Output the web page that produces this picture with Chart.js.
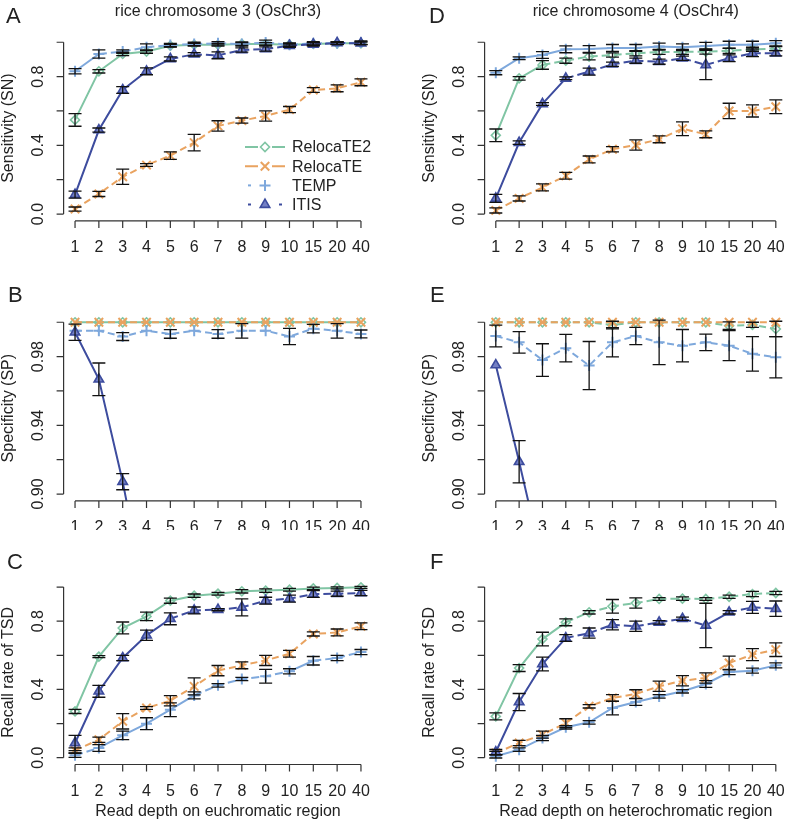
<!DOCTYPE html>
<html>
<head>
<meta charset="utf-8">
<script src="https://cdn.jsdelivr.net/npm/chart.js@4.4.1/dist/chart.umd.min.js"></script>
<style>
  html, body { margin: 0; padding: 0; background: #fff; overflow: hidden; width: 791px; height: 821px; }
  canvas { position: absolute; }
</style>
</head>
<body>
<canvas id="panelA" width="395" height="262" style="left:0px;top:0px"></canvas>
<canvas id="panelD" width="400" height="262" style="left:395px;top:0px"></canvas>
<canvas id="panelB" width="395" height="268" style="left:0px;top:262px"></canvas>
<canvas id="panelE" width="400" height="268" style="left:395px;top:262px"></canvas>
<canvas id="panelC" width="395" height="291" style="left:0px;top:530px"></canvas>
<canvas id="panelF" width="400" height="291" style="left:395px;top:530px"></canvas>
<script>
// read depths (x categories)
var depths = ['1', '2', '3', '4', '5', '6', '7', '8', '9', '10', '15', '20', '40'];
var seriesNames = ['RelocaTE2', 'RelocaTE', 'TEMP', 'ITIS'];

// A: sensitivity, OsChr3
var snChr3RelocaTE2 = [0.548, 0.831, 0.932, 0.946, 0.980, 0.986, 0.986, 0.990, 0.990, 0.986, 0.990, 0.994, 0.994];
var snChr3RelocaTE2Err = [0.037, 0.010, 0.010, 0.010, 0.008, 0.008, 0.008, 0.008, 0.008, 0.008, 0.008, 0.006, 0.008];
var snChr3RelocaTE = [0.029, 0.117, 0.217, 0.285, 0.340, 0.416, 0.513, 0.544, 0.571, 0.608, 0.722, 0.732, 0.767];
var snChr3RelocaTEErr = [0.012, 0.015, 0.044, 0.008, 0.022, 0.048, 0.030, 0.015, 0.030, 0.018, 0.014, 0.020, 0.020];
var snChr3TEMP = [0.831, 0.932, 0.946, 0.971, 0.984, 0.990, 0.994, 0.990, 0.998, 0.986, 0.994, 0.994, 0.998];
var snChr3TEMPErr = [0.015, 0.024, 0.010, 0.020, 0.010, 0.010, 0.010, 0.012, 0.015, 0.010, 0.010, 0.008, 0.010];
var snChr3ITIS = [0.113, 0.489, 0.722, 0.831, 0.903, 0.930, 0.924, 0.955, 0.961, 0.980, 0.988, 0.996, 0.994];
var snChr3ITISErr = [0.020, 0.012, 0.020, 0.020, 0.012, 0.010, 0.020, 0.012, 0.012, 0.010, 0.010, 0.008, 0.008];

// D: sensitivity, OsChr4
var snChr4RelocaTE2 = [0.458, 0.790, 0.868, 0.893, 0.917, 0.926, 0.936, 0.944, 0.944, 0.946, 0.950, 0.959, 0.963];
var snChr4RelocaTE2Err = [0.037, 0.010, 0.025, 0.015, 0.020, 0.012, 0.015, 0.015, 0.015, 0.015, 0.015, 0.012, 0.012];
var snChr4RelocaTE = [0.021, 0.091, 0.155, 0.223, 0.318, 0.377, 0.402, 0.435, 0.497, 0.464, 0.600, 0.600, 0.625];
var snChr4RelocaTEErr = [0.015, 0.015, 0.020, 0.020, 0.020, 0.015, 0.030, 0.020, 0.040, 0.020, 0.045, 0.035, 0.040];
var snChr4TEMP = [0.823, 0.907, 0.926, 0.959, 0.961, 0.967, 0.967, 0.975, 0.971, 0.979, 0.986, 0.986, 0.994];
var snChr4TEMPErr = [0.012, 0.008, 0.020, 0.020, 0.020, 0.020, 0.020, 0.020, 0.020, 0.020, 0.020, 0.020, 0.015];
var snChr4ITIS = [0.091, 0.416, 0.641, 0.790, 0.829, 0.872, 0.893, 0.887, 0.907, 0.868, 0.907, 0.936, 0.936];
var snChr4ITISErr = [0.023, 0.010, 0.008, 0.008, 0.020, 0.012, 0.015, 0.015, 0.012, 0.085, 0.020, 0.020, 0.015];

// B: specificity, OsChr3 (ITIS leaves the plot after depth 4)
var spChr3RelocaTE2 = [1, 1, 1, 1, 1, 1, 1, 1, 1, 1, 1, 1, 1];
var spChr3RelocaTE = [1, 1, 1, 1, 1, 1, 1, 1, 1, 1, 1, 1, 1];
var spChr3TEMP = [0.9951, 0.9951, 0.9917, 0.9951, 0.9932, 0.9951, 0.9932, 0.9950, 0.9951, 0.9917, 0.9963, 0.9950, 0.9932];
var spChr3TEMPErr = [0, 0, 0.0023, 0, 0.0025, 0, 0.0025, 0.0042, 0, 0.0047, 0.0025, 0.0042, 0.0023];
var spChr3ITIS = [0.9942, 0.9668, 0.9072, 0.836, null, null, null, null, null, null, null, null, null];
var spChr3ITISErr = [0.0047, 0.0095, 0.0047, 0, 0, 0, 0, 0, 0, 0, 0, 0, 0];

// E: specificity, OsChr4
var spChr4RelocaTE2 = [1, 1, 1, 1, 1, 0.9984, 1, 1, 1, 1, 0.9980, 0.9985, 0.9961];
var spChr4RelocaTE2Err = [0, 0, 0, 0, 0, 0.0022, 0, 0, 0, 0, 0.0022, 0.0015, 0.0045];
var spChr4RelocaTE = [1, 1, 1, 1, 1, 1, 1, 1, 1, 1, 1, 1, 1];
var spChr4TEMP = [0.9920, 0.9883, 0.9780, 0.9849, 0.9748, 0.9883, 0.9920, 0.9883, 0.9864, 0.9883, 0.9864, 0.9816, 0.9796];
var spChr4TEMPErr = [0.0063, 0.0063, 0.0095, 0.0080, 0.0140, 0.0085, 0.0050, 0.0130, 0.0094, 0.0048, 0.0087, 0.0100, 0.0120];
var spChr4ITIS = [0.9751, 0.9188, 0.86, null, null, null, null, null, null, null, null, null, null];
var spChr4ITISErr = [0, 0.0123, 0, 0, 0, 0, 0, 0, 0, 0, 0, 0, 0];

// C: recall rate of TSD, OsChr3
var tsdChr3RelocaTE2 = [0.271, 0.592, 0.760, 0.828, 0.920, 0.949, 0.961, 0.975, 0.979, 0.984, 0.992, 0.995, 0.998];
var tsdChr3RelocaTE2Err = [0.012, 0.006, 0.035, 0.025, 0.015, 0.010, 0.008, 0.010, 0.010, 0.008, 0.008, 0.006, 0.006];
var tsdChr3RelocaTE = [0.043, 0.105, 0.213, 0.291, 0.334, 0.418, 0.510, 0.541, 0.570, 0.609, 0.725, 0.734, 0.770];
var tsdChr3RelocaTEErr = [0.015, 0.015, 0.045, 0.008, 0.030, 0.050, 0.030, 0.020, 0.030, 0.020, 0.012, 0.020, 0.020];
var tsdChr3TEMP = [0.014, 0.057, 0.131, 0.199, 0.281, 0.365, 0.424, 0.461, 0.477, 0.506, 0.568, 0.584, 0.619];
var tsdChr3TEMPErr = [0.012, 0.020, 0.025, 0.035, 0.040, 0.020, 0.010, 0.010, 0.040, 0.015, 0.025, 0.015, 0.015];
var tsdChr3ITIS = [0.086, 0.389, 0.584, 0.717, 0.814, 0.863, 0.867, 0.881, 0.920, 0.932, 0.959, 0.961, 0.965];
var tsdChr3ITISErr = [0.045, 0.035, 0.015, 0.030, 0.035, 0.020, 0.006, 0.050, 0.020, 0.020, 0.020, 0.015, 0.015];

// F: recall rate of TSD, OsChr4
var tsdChr4RelocaTE2 = [0.242, 0.525, 0.695, 0.793, 0.852, 0.887, 0.906, 0.930, 0.932, 0.930, 0.943, 0.959, 0.965];
var tsdChr4RelocaTE2Err = [0.020, 0.020, 0.040, 0.020, 0.010, 0.040, 0.030, 0.008, 0.010, 0.008, 0.010, 0.015, 0.010];
var tsdChr4RelocaTE = [0.027, 0.086, 0.135, 0.203, 0.301, 0.350, 0.373, 0.418, 0.451, 0.467, 0.555, 0.604, 0.633];
var tsdChr4RelocaTEErr = [0.010, 0.015, 0.020, 0.025, 0.010, 0.020, 0.025, 0.030, 0.030, 0.030, 0.040, 0.035, 0.040];
var tsdChr4TEMP = [0.008, 0.047, 0.115, 0.178, 0.207, 0.291, 0.326, 0.359, 0.389, 0.432, 0.502, 0.510, 0.541];
var tsdChr4TEMPErr = [0.010, 0.010, 0.015, 0.010, 0.010, 0.040, 0.020, 0.010, 0.010, 0.020, 0.015, 0.015, 0.015];
var tsdChr4ITIS = [0.033, 0.326, 0.549, 0.701, 0.730, 0.779, 0.770, 0.793, 0.814, 0.775, 0.852, 0.881, 0.873];
var tsdChr4ITISErr = [0.015, 0.050, 0.040, 0.020, 0.030, 0.030, 0.030, 0.010, 0.010, 0.130, 0.010, 0.035, 0.045];

var unitTicks = [0, 0.2, 0.4, 0.6, 0.8, 1.0];
var unitLabels = ['0.0', '', '0.4', '', '0.8', ''];
var specTicks = [0.90, 0.92, 0.94, 0.96, 0.98, 1.00];
var specLabels = ['0.90', '', '0.94', '', '0.98', ''];

var colors = ['#80c5a4', '#e9a360', '#7ea8dc', '#3d4c9e'];
var FONT = '"Liberation Sans", Arial, sans-serif';
var DASH = [7, 4];
var AUTO = 'auto';   // solid on long segments, dashed on short flat ones

function autoDash(c) {
    var dx = c.p1.x - c.p0.x, dy = c.p1.y - c.p0.y;
    return Math.sqrt(dx * dx + dy * dy) > 26 ? [] : [8, 4];
}

function buildSeries(values, errors, i, dash) {
    var styles = [
        { pointStyle: 'rectRot', pointRadius: 4.5, pointBackgroundColor: 'rgba(255,255,255,0)', pointBorderWidth: 1.6 },
        { pointStyle: 'crossRot', pointRadius: 6, pointBackgroundColor: colors[1], pointBorderWidth: 2 },
        { pointStyle: 'cross', pointRadius: 5.5, pointBackgroundColor: colors[2], pointBorderWidth: 2 },
        { pointStyle: 'triangle', pointRadius: 5.5, pointBackgroundColor: '#7480c4', pointBorderWidth: 1.6 }
    ];
    var ds = {
        label: seriesNames[i],
        data: values.map(function (v, k) { return { x: k + 1, y: v }; }),
        errors: errors,
        borderColor: colors[i],
        pointBorderColor: colors[i],
        borderWidth: 2,
        borderDash: dash === AUTO ? [] : dash,
        fill: false,
        tension: 0,
        spanGaps: false,
        order: 4 - i
    };
    if (dash === AUTO) ds.segment = { borderDash: autoDash };
    return Object.assign(ds, styles[i]);
}

// axes, labels and error bars in the style of the original figure
var framePlugin = {
    id: 'frame',
    afterDatasetsDraw: function (chart) {
        var ctx = chart.ctx, a = chart.chartArea;
        var xs = chart.scales.x, ys = chart.scales.y;
        ctx.save();
        ctx.beginPath();
        ctx.rect(a.left, a.top, a.right - a.left, a.bottom - a.top);
        ctx.clip();
        ctx.strokeStyle = '#111';
        ctx.lineWidth = 1.3;
        chart.data.datasets.forEach(function (ds) {
            if (!ds.errors) return;
            ds.data.forEach(function (p, k) {
                var e = ds.errors[k];
                if (p.y === null || !e) return;
                var x = xs.getPixelForValue(p.x);
                var y1 = ys.getPixelForValue(p.y - e);
                var y2 = ys.getPixelForValue(p.y + e);
                ctx.beginPath();
                ctx.moveTo(x, y1); ctx.lineTo(x, y2);
                ctx.moveTo(x - 6.5, y1); ctx.lineTo(x + 6.5, y1);
                ctx.moveTo(x - 6.5, y2); ctx.lineTo(x + 6.5, y2);
                ctx.stroke();
            });
        });
        ctx.restore();
    },
    afterDraw: function (chart) {
        var o = chart.options.plugins.frame;
        var ctx = chart.ctx, a = chart.chartArea;
        var xs = chart.scales.x, ys = chart.scales.y;
        ctx.save();
        ctx.strokeStyle = '#333';
        ctx.fillStyle = '#222';
        ctx.lineWidth = 1.2;
        ctx.setLineDash([]);

        // y axis
        var yTop = ys.getPixelForValue(o.yTicks[o.yTicks.length - 1]);
        var yBot = ys.getPixelForValue(o.yTicks[0]);
        ctx.beginPath();
        ctx.moveTo(a.left, yTop); ctx.lineTo(a.left, yBot);
        o.yTicks.forEach(function (t) {
            var y = ys.getPixelForValue(t);
            ctx.moveTo(a.left, y); ctx.lineTo(a.left - 7, y);
        });
        // x axis
        var xL = xs.getPixelForValue(1), xR = xs.getPixelForValue(depths.length);
        ctx.moveTo(xL, a.bottom); ctx.lineTo(xR, a.bottom);
        depths.forEach(function (d, k) {
            var x = xs.getPixelForValue(k + 1);
            ctx.moveTo(x, a.bottom); ctx.lineTo(x, a.bottom + 7);
        });
        ctx.stroke();

        ctx.font = '16px ' + FONT;
        ctx.textAlign = 'center';
        ctx.textBaseline = 'middle';
        depths.forEach(function (d, k) {
            ctx.fillText(d, xs.getPixelForValue(k + 1), a.bottom + 27);
        });
        o.yTicks.forEach(function (t, k) {
            if (!o.yLabels[k]) return;
            ctx.save();
            ctx.translate(a.left - 25, ys.getPixelForValue(t));
            ctx.rotate(-Math.PI / 2);
            ctx.fillText(o.yLabels[k], 0, 0);
            ctx.restore();
        });
        ctx.save();
        ctx.translate(a.left - 55, (a.top + a.bottom) / 2);
        ctx.rotate(-Math.PI / 2);
        ctx.fillText(o.yTitle, 0, 0);
        ctx.restore();
        var midX = (a.left + a.right) / 2;
        if (o.xTitle) ctx.fillText(o.xTitle, midX, a.bottom + 47);
        if (o.title) ctx.fillText(o.title, midX, 11.5);

        ctx.font = '22px ' + FONT;
        ctx.textAlign = 'left';
        ctx.fillText(o.letter, o.letterX, o.letterY);

        if (o.legend) {
            ctx.font = '16px ' + FONT;
            var lx = 245;
            chart.data.datasets.slice().sort(function (p, q) { return q.order - p.order; }).forEach(function (ds, i) {
                var y = 147 + i * 19.2;
                ctx.strokeStyle = ds.borderColor;
                ctx.lineWidth = 2;
                ctx.beginPath();
                if (i < 2) {
                    ctx.moveTo(lx, y); ctx.lineTo(lx + 13, y);
                    ctx.moveTo(lx + 27, y); ctx.lineTo(lx + 40, y);
                } else {
                    ctx.moveTo(lx + 3, y); ctx.lineTo(lx + 6, y);
                    if (i === 3) { ctx.moveTo(lx + 34, y); ctx.lineTo(lx + 37, y); }
                }
                ctx.stroke();
                ctx.fillStyle = ds.pointBackgroundColor;
                ctx.lineWidth = ds.pointBorderWidth;
                Chart.helpers.drawPoint(ctx, {
                    pointStyle: ds.pointStyle, radius: ds.pointRadius, rotation: 0, borderWidth: ds.pointBorderWidth
                }, lx + 20, y);
                ctx.fillStyle = '#222';
                ctx.fillText(ds.label, lx + 47, y + 1);
            });
        }
        ctx.restore();
    }
};

function makePanel(id, p) {
    var datasets = p.values.map(function (v, i) {
        return buildSeries(v, p.errors[i], i, p.dashes[i]);
    });
    return new Chart(document.getElementById(id), {
        type: 'line',
        data: { datasets: datasets },
        plugins: [framePlugin],
        options: {
            responsive: false,
            devicePixelRatio: 1,
            animation: false,
            layout: { padding: p.pad },
            plugins: {
                legend: { display: false },
                tooltip: { enabled: false },
                frame: p
            },
            scales: {
                x: { type: 'linear', min: 0.52, max: 13.48, display: false },
                y: { type: 'linear', min: p.yMin, max: p.yMax, display: false }
            }
        }
    });
}

var padL = { left: 63.6, right: 22.6 };
var padR = { left: 89.6, right: 1.6 };

makePanel('panelA', {
    values: [snChr3RelocaTE2, snChr3RelocaTE, snChr3TEMP, snChr3ITIS],
    errors: [snChr3RelocaTE2Err, snChr3RelocaTEErr, snChr3TEMPErr, snChr3ITISErr],
    dashes: [[], DASH, AUTO, AUTO],
    yMin: -0.04, yMax: 1.04, yTicks: unitTicks, yLabels: unitLabels,
    yTitle: 'Sensitivity (SN)', title: 'rice chromosome 3 (OsChr3)',
    letter: 'A', letterX: 6, letterY: 17, legend: true,
    pad: { left: padL.left, right: padL.right, top: 35.4, bottom: 41.1 }
});
makePanel('panelD', {
    values: [snChr4RelocaTE2, snChr4RelocaTE, snChr4TEMP, snChr4ITIS],
    errors: [snChr4RelocaTE2Err, snChr4RelocaTEErr, snChr4TEMPErr, snChr4ITISErr],
    dashes: [AUTO, DASH, [], AUTO],
    yMin: -0.04, yMax: 1.04, yTicks: unitTicks, yLabels: unitLabels,
    yTitle: 'Sensitivity (SN)', title: 'rice chromosome 4 (OsChr4)',
    letter: 'D', letterX: 34, letterY: 17,
    pad: { left: padR.left, right: padR.right, top: 35.4, bottom: 41.1 }
});
makePanel('panelB', {
    values: [spChr3RelocaTE2, spChr3RelocaTE, spChr3TEMP, spChr3ITIS],
    errors: [null, null, spChr3TEMPErr, spChr3ITISErr],
    dashes: [[], DASH, DASH, []],
    yMin: 0.896, yMax: 1.004, yTicks: specTicks, yLabels: specLabels,
    yTitle: 'Specificity (SP)',
    letter: 'B', letterX: 8, letterY: 34,
    pad: { left: padL.left, right: padL.right, top: 53.4, bottom: 29.1 }
});
makePanel('panelE', {
    values: [spChr4RelocaTE2, spChr4RelocaTE, spChr4TEMP, spChr4ITIS],
    errors: [spChr4RelocaTE2Err, null, spChr4TEMPErr, spChr4ITISErr],
    dashes: [DASH, DASH, DASH, []],
    yMin: 0.896, yMax: 1.004, yTicks: specTicks, yLabels: specLabels,
    yTitle: 'Specificity (SP)',
    letter: 'E', letterX: 35, letterY: 34,
    pad: { left: padR.left, right: padR.right, top: 53.4, bottom: 29.1 }
});
makePanel('panelC', {
    values: [tsdChr3RelocaTE2, tsdChr3RelocaTE, tsdChr3TEMP, tsdChr3ITIS],
    errors: [tsdChr3RelocaTE2Err, tsdChr3RelocaTEErr, tsdChr3TEMPErr, tsdChr3ITISErr],
    dashes: [[], DASH, AUTO, AUTO],
    yMin: -0.04, yMax: 1.04, yTicks: unitTicks, yLabels: unitLabels,
    yTitle: 'Recall rate of TSD', xTitle: 'Read depth on euchromatic region',
    letter: 'C', letterX: 7, letterY: 33,
    pad: { left: padL.left, right: padL.right, top: 50.2, bottom: 56.5 }
});
makePanel('panelF', {
    values: [tsdChr4RelocaTE2, tsdChr4RelocaTE, tsdChr4TEMP, tsdChr4ITIS],
    errors: [tsdChr4RelocaTE2Err, tsdChr4RelocaTEErr, tsdChr4TEMPErr, tsdChr4ITISErr],
    dashes: [AUTO, DASH, [], AUTO],
    yMin: -0.04, yMax: 1.04, yTicks: unitTicks, yLabels: unitLabels,
    yTitle: 'Recall rate of TSD', xTitle: 'Read depth on heterochromatic region',
    letter: 'F', letterX: 35, letterY: 33,
    pad: { left: padR.left, right: padR.right, top: 50.2, bottom: 56.5 }
});
</script>
</body>
</html>
